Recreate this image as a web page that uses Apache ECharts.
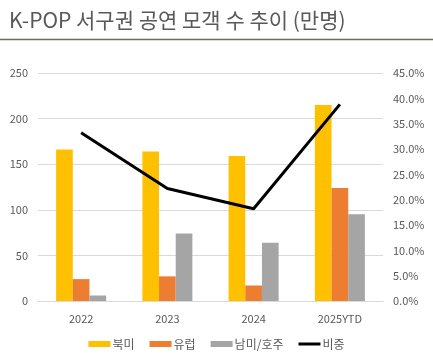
<!DOCTYPE html>
<html><head><meta charset="utf-8">
<script src="https://cdn.jsdelivr.net/npm/echarts@6/dist/echarts.min.js"></script>
<style>html,body{margin:0;padding:0;background:#fff}#c{width:433px;height:359px}</style>
</head><body><div id="c"></div>
<script>
const categories = ['2022', '2023', '2024', '2025YTD'];
const northAmerica = [166, 164, 159, 215];
const europe = [24, 27, 17, 124];
const latamOceania = [6, 74, 64, 95];
const share = [33.2, 22.2, 18.2, 38.8];
const seriesNames = ['북미', '유럽', '남미/호주', '비중'];
const titleText = 'K-POP 서구권 공연 모객 수 추이 (만명)';

const font = '"Noto Sans CJK KR", "Noto Sans", sans-serif';
const chart = echarts.init(document.getElementById('c'), null, {renderer: 'canvas'});
chart.setOption({
  animation: false,
  backgroundColor: '#fff',
  textStyle: {fontFamily: font},
  title: {
    text: titleText, left: 4, top: 5,
    textStyle: {fontSize: 21, fontWeight: 'normal', color: '#595959', fontFamily: font}
  },
  graphic: [{type: 'line', shape: {x1: 0, y1: 39.5, x2: 433, y2: 39.5}, style: {stroke: '#6b6b5e', lineWidth: 1.5}}],
  grid: {left: 38, right: 50, top: 73, bottom: 58},
  legend: {
    bottom: 4, left: 'center', itemWidth: 22, itemHeight: 6, itemGap: 15,
    symbolKeepAspect: true,
    textStyle: {fontSize: 12, color: '#595959', fontFamily: font, padding: [0, 0, 0, -3]},
    data: [
      {name: seriesNames[0], icon: 'rect'},
      {name: seriesNames[1], icon: 'rect'},
      {name: seriesNames[2], icon: 'rect'},
      {name: seriesNames[3], icon: 'path://M0,0h22v3h-22z'}
    ]
  },
  xAxis: {
    type: 'category', data: categories,
    axisLine: {lineStyle: {color: '#d9d9d9'}},
    axisTick: {show: false},
    axisLabel: {color: '#595959', fontSize: 11, margin: 12}
  },
  yAxis: [{
    type: 'value', min: 0, max: 250, interval: 50,
    axisLabel: {color: '#595959', fontSize: 11, margin: 10},
    splitLine: {lineStyle: {color: '#d9d9d9'}}
  }, {
    type: 'value', min: 0, max: 45, interval: 5,
    axisLabel: {color: '#595959', fontSize: 11, margin: 10, formatter: v => v.toFixed(1) + '%'},
    splitLine: {show: false}
  }],
  series: [
    {name: seriesNames[0], type: 'bar', data: northAmerica, barGap: '0%', barCategoryGap: '42%', itemStyle: {color: '#FFC000'}},
    {name: seriesNames[1], type: 'bar', data: europe, itemStyle: {color: '#ED7D31'}},
    {name: seriesNames[2], type: 'bar', data: latamOceania, itemStyle: {color: '#A5A5A5'}},
    {name: seriesNames[3], type: 'line', yAxisIndex: 1, data: share, symbol: 'none', lineStyle: {color: '#000', width: 3}, itemStyle: {color: '#000'}}
  ]
});
</script></body></html>
